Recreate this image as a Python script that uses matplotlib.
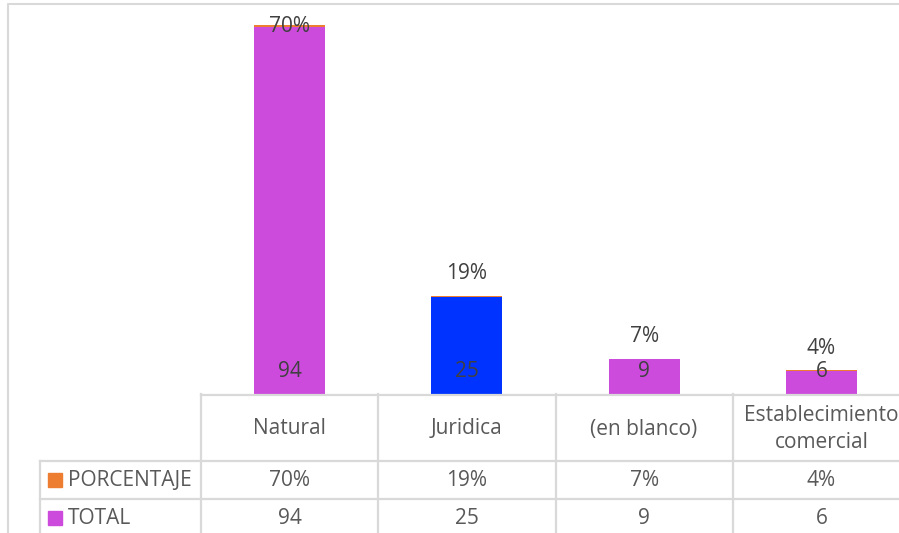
import matplotlib.pyplot as plt
from matplotlib.lines import Line2D
from matplotlib.patches import Rectangle

# Datos
categorias = ['Natural', 'Juridica', '(en blanco)', 'Establecimiento\ncomercial']
total = [94, 25, 9, 6]
porcentaje = [0.70, 0.19, 0.07, 0.04]
etiquetas_pct = ['70%', '19%', '7%', '4%']
colores_total = ['#cc4bdc', '#0033ff', '#cc4bdc', '#cc4bdc']
color_pct = '#ed7d31'
gris = '#d9d9d9'
texto = '#595959'

plt.rcParams['font.family'] = ['Open Sans', 'DejaVu Sans']
fs = 15

W, H = 899, 533
fig = plt.figure(figsize=(W / 100, H / 100), dpi=100)


def caja(x0, y0, x1, y1):
    # rectángulo en píxeles (origen arriba a la izquierda) -> fracción de figura
    return [x0 / W, 1 - y1 / H, (x1 - x0) / W, (y1 - y0) / H]


# marco del gráfico (izquierda y arriba)
fig.add_artist(Line2D([8 / W, 8 / W, 1], [0, 1 - 4 / H, 1 - 4 / H],
                      transform=fig.transFigure, color=gris, lw=1.5))

col0, col_w = 201, 177.25
ax = fig.add_axes(caja(col0, 4, col0 + 4 * col_w, 394))
x = range(len(categorias))
ax.bar(x, total, width=0.4, color=colores_total)
ax.bar(x, porcentaje, width=0.4, bottom=total, color=color_pct)
ax.set_xlim(-0.5, 3.5)
ax.set_ylim(0, 100)
ax.axis('off')

for i in x:
    ax.annotate(str(total[i]), (i, 0), xytext=(0, 16), textcoords='offset points',
                ha='center', va='center', fontsize=fs, color='#404040')
    tope = total[i] + porcentaje[i]
    dy = 16 if tope < 85 else -1
    ax.annotate(etiquetas_pct[i], (i, tope), xytext=(0, dy), textcoords='offset points',
                ha='center', va='center', fontsize=fs, color='#404040',
                annotation_clip=False)

# tabla de datos
tab = fig.add_axes(caja(0, 394, W, H + 10))
tab.set_xlim(0, W)
tab.set_ylim(H + 10, 394)
tab.axis('off')
bordes = [col0 + i * col_w for i in range(len(categorias) + 1)]
filas = [394, 461, 499, H + 10]
lk = dict(color=gris, lw=1.6, clip_on=False)
tab.plot([col0, bordes[-1]], [395, 395], **lk)
for yy in filas[1:3]:
    tab.plot([40, bordes[-1]], [yy, yy], **lk)
for xx in bordes:
    tab.plot([xx, xx], [394, filas[-1]], **lk)
tab.plot([40, 40], [461, filas[-1]], **lk)

for i, cat in enumerate(categorias):
    cx = col0 + (i + 0.5) * col_w
    tab.text(cx, 429, cat, ha='center', va='center', fontsize=fs, color=texto,
             linespacing=1.4)
    tab.text(cx, 481, etiquetas_pct[i], ha='center', va='center', fontsize=fs, color=texto)
    tab.text(cx, 519, str(total[i]), ha='center', va='center', fontsize=fs, color=texto)

for nombre, color, yc in [('PORCENTAJE', color_pct, 480), ('TOTAL', '#cc4bdc', 518)]:
    tab.add_patch(Rectangle((48, yc - 7), 14, 14, color=color))
    tab.text(68, yc + 1, nombre, ha='left', va='center', fontsize=fs, color=texto)

fig.savefig('out.png', dpi=100)
